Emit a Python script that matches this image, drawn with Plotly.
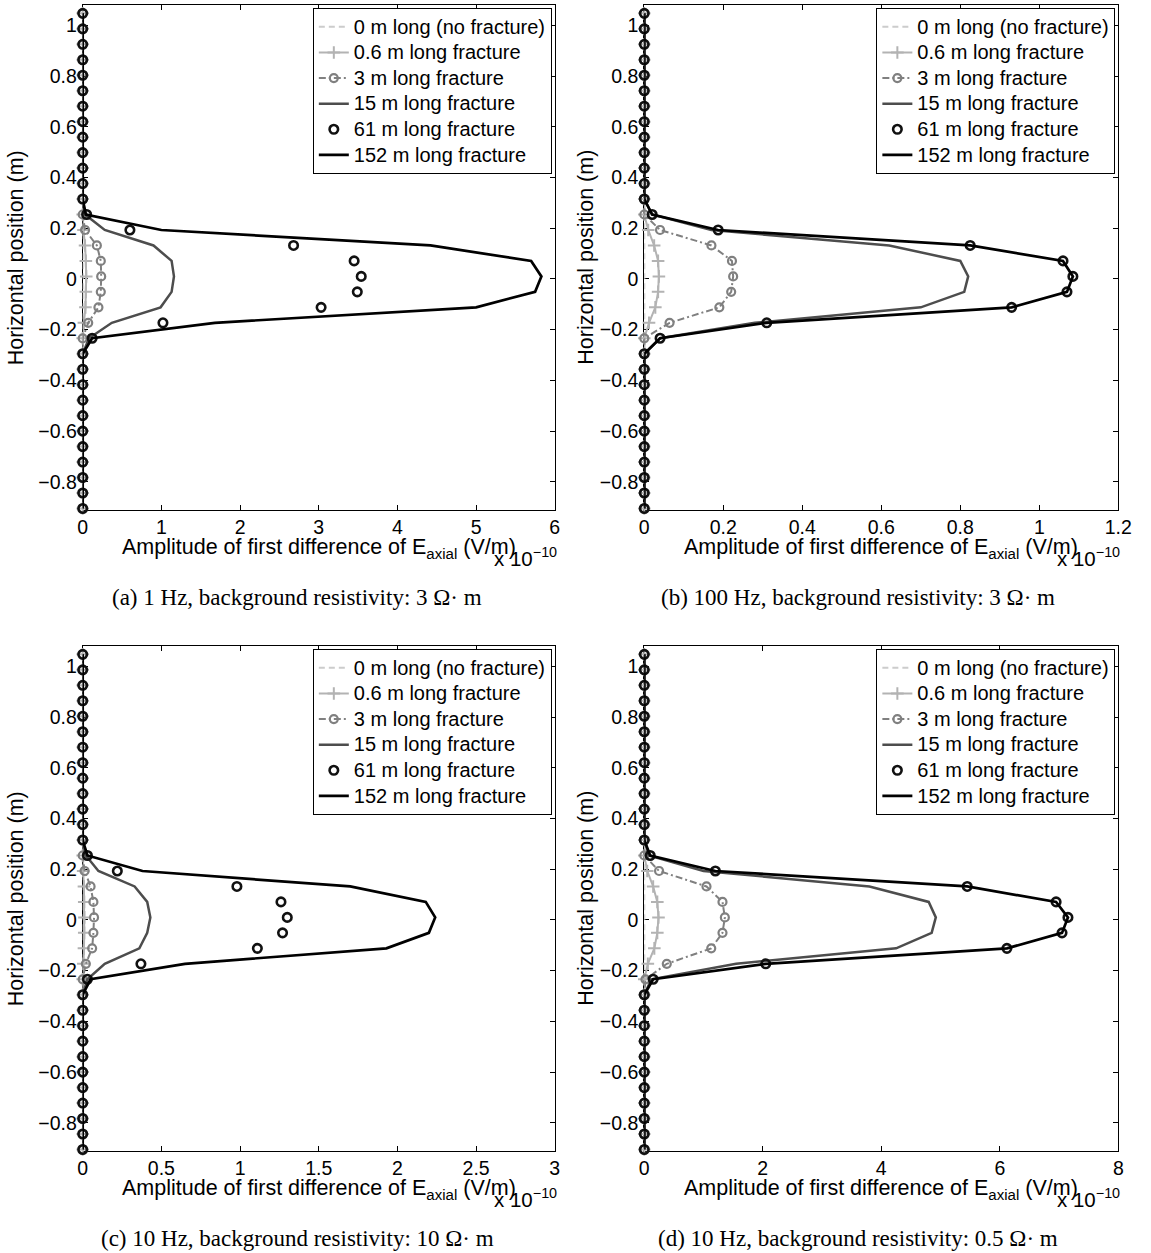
import plotly.graph_objects as go

W, H = 1151, 1253

# Sample positions along the borehole (m), top to bottom
POSITIONS = [1.047, 0.986, 0.925, 0.864, 0.803, 0.742, 0.681, 0.620, 0.559,
             0.498, 0.437, 0.376, 0.315, 0.254, 0.193, 0.132, 0.071, 0.010,
             -0.051, -0.112, -0.173, -0.234, -0.295, -0.356, -0.417, -0.478,
             -0.539, -0.600, -0.661, -0.722, -0.783, -0.844, -0.905]

SERIES_NAMES = ["0 m long (no fracture)", "0.6 m long fracture", "3 m long fracture",
                "15 m long fracture", "61 m long fracture", "152 m long fracture"]

# Amplitudes in units of 1e-10 V/m
# (a) 1 Hz, 3 ohm-m
A_0M = [0, 0, 0, 0, 0, 0, 0, 0, 0, 0, 0, 0, 0,
        0, 0, 0, 0, 0, 0, 0, 0, 0,
        0, 0, 0, 0, 0, 0, 0, 0, 0, 0, 0]
A_06M = [0, 0, 0, 0, 0, 0, 0, 0, 0, 0, 0, 0, 0,
         0.0, 0.01, 0.03, 0.04, 0.045, 0.04, 0.035, 0.015, 0.0,
         0, 0, 0, 0, 0, 0, 0, 0, 0, 0, 0]
A_3M = [0, 0, 0, 0, 0, 0, 0, 0, 0, 0, 0, 0, 0,
        0.0, 0.03, 0.18, 0.23, 0.235, 0.23, 0.2, 0.07, 0.0,
        0, 0, 0, 0, 0, 0, 0, 0, 0, 0, 0]
A_15M = [0, 0, 0, 0, 0, 0, 0, 0, 0, 0, 0, 0, 0,
         0.03, 0.28, 0.9, 1.13, 1.16, 1.13, 0.99, 0.37, 0.08,
         0, 0, 0, 0, 0, 0, 0, 0, 0, 0, 0]
A_61M = [0, 0, 0, 0, 0, 0, 0, 0, 0, 0, 0, 0, 0,
         0.05, 0.6, 2.68, 3.45, 3.54, 3.49, 3.03, 1.02, 0.12,
         0, 0, 0, 0, 0, 0, 0, 0, 0, 0, 0]
A_152M = [0, 0, 0, 0, 0, 0, 0, 0, 0, 0, 0, 0, 0,
          0.04, 1.0, 4.42, 5.70, 5.83, 5.75, 5.0, 1.68, 0.12,
          0, 0, 0, 0, 0, 0, 0, 0, 0, 0, 0]

# (b) 100 Hz, 3 ohm-m
B_0M = [0, 0, 0, 0, 0, 0, 0, 0, 0, 0, 0, 0, 0,
        0, 0, 0, 0, 0, 0, 0, 0, 0,
        0, 0, 0, 0, 0, 0, 0, 0, 0, 0, 0]
B_06M = [0, 0, 0, 0, 0, 0, 0, 0, 0, 0, 0, 0, 0,
         0.0, 0.01, 0.025, 0.035, 0.037, 0.035, 0.028, 0.012, 0.0,
         0, 0, 0, 0, 0, 0, 0, 0, 0, 0, 0]
B_3M = [0, 0, 0, 0, 0, 0, 0, 0, 0, 0, 0, 0, 0,
        0.0, 0.04, 0.17, 0.222, 0.225, 0.22, 0.19, 0.064, 0.0,
        0, 0, 0, 0, 0, 0, 0, 0, 0, 0, 0]
B_15M = [0, 0, 0, 0, 0, 0, 0, 0, 0, 0, 0, 0, 0,
         0.02, 0.17, 0.62, 0.80, 0.82, 0.81, 0.70, 0.28, 0.04,
         0, 0, 0, 0, 0, 0, 0, 0, 0, 0, 0]
B_61M = [0, 0, 0, 0, 0, 0, 0, 0, 0, 0, 0, 0, 0,
         0.02, 0.187, 0.825, 1.06, 1.085, 1.07, 0.93, 0.31, 0.04,
         0, 0, 0, 0, 0, 0, 0, 0, 0, 0, 0]
B_152M = [0, 0, 0, 0, 0, 0, 0, 0, 0, 0, 0, 0, 0,
          0.02, 0.187, 0.825, 1.06, 1.085, 1.07, 0.93, 0.31, 0.04,
          0, 0, 0, 0, 0, 0, 0, 0, 0, 0, 0]

# (c) 10 Hz, 10 ohm-m
C_0M = [0, 0, 0, 0, 0, 0, 0, 0, 0, 0, 0, 0, 0,
        0, 0, 0, 0, 0, 0, 0, 0, 0,
        0, 0, 0, 0, 0, 0, 0, 0, 0, 0, 0]
C_06M = [0, 0, 0, 0, 0, 0, 0, 0, 0, 0, 0, 0, 0,
         0.0, 0.003, 0.008, 0.01, 0.011, 0.01, 0.008, 0.004, 0.0,
         0, 0, 0, 0, 0, 0, 0, 0, 0, 0, 0]
C_3M = [0, 0, 0, 0, 0, 0, 0, 0, 0, 0, 0, 0, 0,
        0.0, 0.012, 0.05, 0.068, 0.072, 0.068, 0.06, 0.02, 0.0,
        0, 0, 0, 0, 0, 0, 0, 0, 0, 0, 0]
C_15M = [0, 0, 0, 0, 0, 0, 0, 0, 0, 0, 0, 0, 0,
         0.02, 0.1, 0.33, 0.41, 0.43, 0.41, 0.36, 0.14, 0.03,
         0, 0, 0, 0, 0, 0, 0, 0, 0, 0, 0]
C_61M = [0, 0, 0, 0, 0, 0, 0, 0, 0, 0, 0, 0, 0,
         0.03, 0.22, 0.98, 1.26, 1.30, 1.27, 1.11, 0.37, 0.03,
         0, 0, 0, 0, 0, 0, 0, 0, 0, 0, 0]
C_152M = [0, 0, 0, 0, 0, 0, 0, 0, 0, 0, 0, 0, 0,
          0.03, 0.38, 1.70, 2.18, 2.24, 2.20, 1.93, 0.65, 0.05,
          0, 0, 0, 0, 0, 0, 0, 0, 0, 0, 0]

# (d) 10 Hz, 0.5 ohm-m
D_0M = [0, 0, 0, 0, 0, 0, 0, 0, 0, 0, 0, 0, 0,
        0, 0, 0, 0, 0, 0, 0, 0, 0,
        0, 0, 0, 0, 0, 0, 0, 0, 0, 0, 0]
D_06M = [0, 0, 0, 0, 0, 0, 0, 0, 0, 0, 0, 0, 0,
         0.0, 0.05, 0.15, 0.22, 0.24, 0.22, 0.17, 0.06, 0.0,
         0, 0, 0, 0, 0, 0, 0, 0, 0, 0, 0]
D_3M = [0, 0, 0, 0, 0, 0, 0, 0, 0, 0, 0, 0, 0,
        0.0, 0.25, 1.05, 1.32, 1.36, 1.32, 1.13, 0.38, 0.02,
        0, 0, 0, 0, 0, 0, 0, 0, 0, 0, 0]
D_15M = [0, 0, 0, 0, 0, 0, 0, 0, 0, 0, 0, 0, 0,
         0.08, 1.0, 3.8, 4.8, 4.92, 4.85, 4.25, 1.55, 0.12,
         0, 0, 0, 0, 0, 0, 0, 0, 0, 0, 0]
D_61M = [0, 0, 0, 0, 0, 0, 0, 0, 0, 0, 0, 0, 0,
         0.1, 1.2, 5.45, 6.95, 7.15, 7.05, 6.12, 2.05, 0.15,
         0, 0, 0, 0, 0, 0, 0, 0, 0, 0, 0]
D_152M = [0, 0, 0, 0, 0, 0, 0, 0, 0, 0, 0, 0, 0,
          0.1, 1.2, 5.45, 6.95, 7.15, 7.05, 6.12, 2.05, 0.15,
          0, 0, 0, 0, 0, 0, 0, 0, 0, 0, 0]

PANEL_SERIES = [
    [A_0M, A_06M, A_3M, A_15M, A_61M, A_152M],
    [B_0M, B_06M, B_3M, B_15M, B_61M, B_152M],
    [C_0M, C_06M, C_3M, C_15M, C_61M, C_152M],
    [D_0M, D_06M, D_3M, D_15M, D_61M, D_152M],
]
X_MAX = [6, 1.2, 3, 8]
X_DTICK = [1, 0.2, 0.5, 2]
Y_TICKS = [-0.8, -0.6, -0.4, -0.2, 0, 0.2, 0.4, 0.6, 0.8, 1]
CAPTIONS = [
    "(a) 1 Hz, background resistivity: 3 \u03a9\u00b7 m",
    "(b) 100 Hz, background resistivity: 3 \u03a9\u00b7 m",
    "(c) 10 Hz, background resistivity: 10 \u03a9\u00b7 m",
    "(d) 10 Hz, background resistivity: 0.5 \u03a9\u00b7 m",
]

SANS = "Liberation Sans, Arial, Helvetica, sans-serif"
SERIF = "Liberation Serif, Times New Roman, serif"
TICK_FS = 19.5
LABEL_FS = 21.5
LEGEND_FS = 20

STYLES = [
    dict(mode="lines", line=dict(color="#cccccc", width=2, dash="6px,4px")),
    dict(mode="lines+markers", line=dict(color="#b3b3b3", width=2),
         marker=dict(symbol="cross-thin", size=9, color="#b3b3b3",
                     line=dict(color="#b3b3b3", width=2))),
    dict(mode="lines+markers", line=dict(color="#808080", width=2, dash="7px,3px,2px,3px"),
         marker=dict(symbol="circle-open", size=8, color="#808080", line=dict(width=2.2))),
    dict(mode="lines", line=dict(color="#4d4d4d", width=2.5)),
    dict(mode="markers", marker=dict(symbol="circle-open", size=8.5, color="#111111",
                                     line=dict(width=2.6))),
    dict(mode="lines", line=dict(color="#000000", width=2.7)),
]

# Pixel boxes of the four axes: (left, right, top, bottom)
BOXES = [(79, 559, 5, 510), (650, 1132, 5, 510),
         (79, 559, 646, 1151), (650, 1132, 646, 1151)]
YTITLE_X = [11, 590, 11, 590]
CAPTION_X = [297, 867, 297, 867]

fig = go.Figure()
annotations = []
layout = dict(
    width=W, height=H, margin=dict(l=0, r=0, t=0, b=0),
    paper_bgcolor="white", plot_bgcolor="white",
    font=dict(family=SANS, size=TICK_FS, color="black"),
)

for i, (series, box) in enumerate(zip(PANEL_SERIES, BOXES)):
    n = "" if i == 0 else str(i + 1)
    left, right, top, bottom = box
    legend_key = "legend" + n
    for name, vals, style in zip(SERIES_NAMES, series, STYLES):
        fig.add_trace(go.Scatter(
            x=vals, y=POSITIONS, xaxis="x" + n, yaxis="y" + n,
            name="<span style='font-size:%gpx'>%s</span>" % (LEGEND_FS, name),
            legend=legend_key, cliponaxis=False, **style))

    axis_common = dict(
        showline=True, linecolor="black", linewidth=1, mirror="ticks",
        ticks="inside", ticklen=5, tickcolor="black", tickwidth=1,
        showgrid=False, zeroline=False, layer="below traces",
        tickfont=dict(family=SANS, size=TICK_FS, color="black"),
    )
    layout["xaxis" + n] = dict(
        axis_common, domain=[left / W, right / W], range=[0, X_MAX[i]],
        tick0=0, dtick=X_DTICK[i], anchor="y" + n)
    layout["yaxis" + n] = dict(
        axis_common, domain=[1 - bottom / H, 1 - top / H], range=[-0.911, 1.08],
        tickvals=Y_TICKS, anchor="x" + n, ticklabelstandoff=1)
    # legend rows are spaced by the legend font size; entry text is set larger
    layout[legend_key] = dict(
        x=(right - 3) / W, y=1 - (top + 3) / H, xanchor="right", yanchor="top",
        bgcolor="white", bordercolor="black", borderwidth=1,
        font=dict(family=SANS, size=17.4, color="black"), tracegroupgap=0,
        itemwidth=30)

    cx = (left + right) / 2 / W
    annotations.append(dict(
        text="Amplitude of first difference of E<sub>axial</sub> (V/m)",
        x=cx, y=1 - (bottom + 23) / H, xref="paper", yref="paper",
        xanchor="center", yanchor="top", showarrow=False,
        font=dict(family=SANS, size=LABEL_FS, color="black")))
    annotations.append(dict(
        text="x 10<sup>\u221210</sup>",
        x=(right + 4) / W, y=1 - (bottom + 32) / H, xref="paper", yref="paper",
        xanchor="right", yanchor="top", showarrow=False,
        font=dict(family=SANS, size=20.5, color="black")))
    annotations.append(dict(
        text="Horizontal position (m)", textangle=-90,
        x=YTITLE_X[i] / W, y=1 - (top + bottom) / 2 / H, xref="paper", yref="paper",
        xanchor="center", yanchor="middle", showarrow=False,
        font=dict(family=SANS, size=LABEL_FS, color="black")))
    annotations.append(dict(
        text=CAPTIONS[i], x=CAPTION_X[i] / W, y=1 - (bottom + 87) / H,
        xref="paper", yref="paper", xanchor="center", yanchor="middle",
        showarrow=False, font=dict(family=SERIF, size=23, color="black")))

layout["annotations"] = annotations
fig.update_layout(**layout)
fig.write_html("out.html")
